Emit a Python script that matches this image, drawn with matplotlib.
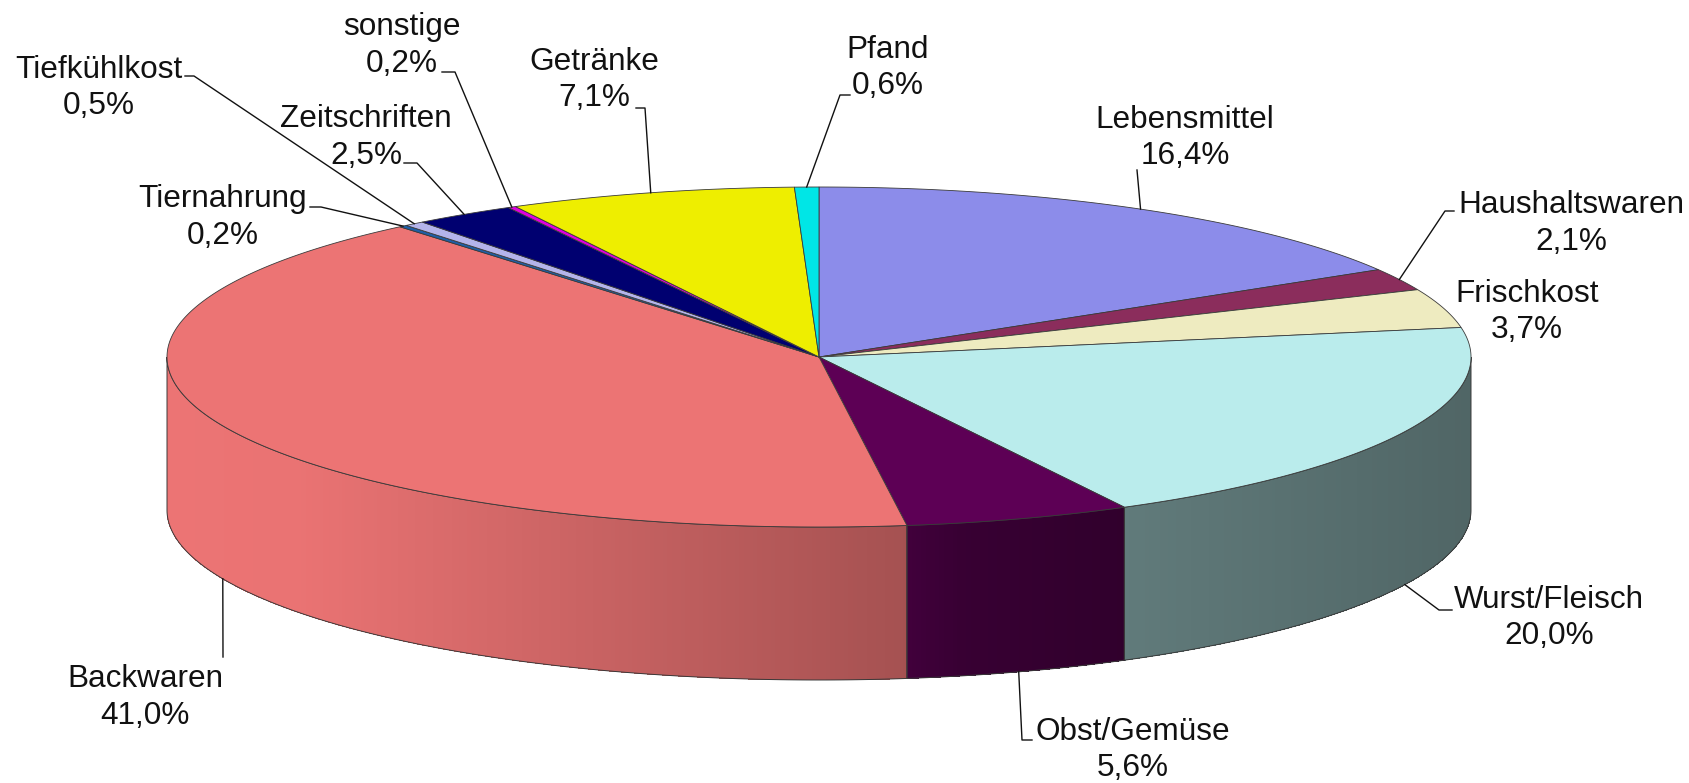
import matplotlib

matplotlib.use("Agg")
import matplotlib.pyplot as plt
import numpy as np
from matplotlib.collections import PolyCollection
from matplotlib.patches import Polygon

plt.rcParams["font.family"] = ["Liberation Sans", "DejaVu Sans"]

# Anteile je Warengruppe (im Uhrzeigersinn ab 12 Uhr)
categories = [
    "Lebensmittel", "Haushaltswaren", "Frischkost", "Wurst/Fleisch",
    "Obst/Gemüse", "Backwaren", "Tiernahrung", "Tiefkühlkost",
    "Zeitschriften", "sonstige", "Getränke", "Pfand",
]
shares = [16.4, 2.1, 3.7, 20.0, 5.6, 41.0, 0.2, 0.5, 2.5, 0.2, 7.1, 0.6]
colors = [
    "#8C8CEA", "#8B2D5C", "#EEEBC0", "#BAECEC", "#5D0055", "#EC7474",
    "#1F5FA8", "#B4B4EB", "#000070", "#E000E0", "#EEEE00", "#00E6E6",
]

# Geometrie der Torte (Pixel)
CX, CY, RX, RY, DEPTH = 819, 357, 652, 170, 153
EDGE = "#3a3a3a"

# Beschriftung: Mitte x, Grundlinie der ersten Zeile
label_pos = [
    (1185, 128), (1571, 213), (1527, 302), (1549, 608), (1133, 740), (145, 687),
    (223, 207), (99, 78), (366, 127), (402, 35), (594, 70), (888, 58),
]
LINE_GAP = 36.5
# Führungslinien: Startpunkte am Text, danach Ankerpunkt auf der Torte
leaders = {
    0: ([(1137, 170)], "top"),
    1: ([(1454, 211), (1445, 211)], "top"),
    3: ([(1452, 610), (1439, 610)], "bottom"),
    4: ([(1032, 740), (1022, 740)], "bottom"),
    5: ([(223, 657)], "bottom"),
    6: ([(310, 207), (321, 207)], "top"),
    7: ([(185, 76), (194, 76)], "top"),
    8: ([(404, 163), (417, 163)], "top"),
    9: ([(442, 72), (455, 72)], "top"),
    10: ([(636, 108), (645, 108)], "top"),
    11: ([(850, 95), (840, 95)], "top"),
}


def pt(theta, drop=0.0):
    t = np.radians(theta)
    return CX + RX * np.sin(t), CY - RY * np.cos(t) + drop


def shade(x):
    return np.interp(x, [167, 300, 906, 960, 1123, 1471], [1.0, 0.99, 0.70, 0.60, 0.52, 0.43])


fig = plt.figure(figsize=(16.9, 7.83), dpi=100)
ax = fig.add_axes([0, 0, 1, 1])
ax.set_xlim(0, 1690)
ax.set_ylim(783, 0)
ax.axis("off")

values = np.array(shares, dtype=float)
bounds = np.concatenate([[0], np.cumsum(values)]) / values.sum() * 360

# Seitenwände (nur vordere Hälfte sichtbar)
for i, color in enumerate(colors):
    lo, hi = max(bounds[i], 90), min(bounds[i + 1], 270)
    if hi <= lo:
        continue
    thetas = np.linspace(lo, hi, max(int((hi - lo) / 0.4), 2) + 1)
    base = np.array(matplotlib.colors.to_rgb(color))
    quads, fills = [], []
    for t0, t1 in zip(thetas[:-1], thetas[1:]):
        x0, y0 = pt(t0)
        x1, y1 = pt(t1)
        quads.append([(x0, y0), (x1, y1), (x1, y1 + DEPTH), (x0, y0 + DEPTH)])
        fills.append(np.clip(base * shade((x0 + x1) / 2), 0, 1))
    ax.add_collection(PolyCollection(quads, facecolors=fills, edgecolors="none",
                                     linewidths=0, antialiased=False, zorder=1))
    xs, ys = pt(thetas)
    outline = list(zip(xs, ys)) + list(zip(xs[::-1], ys[::-1] + DEPTH))
    ax.add_patch(Polygon(outline, closed=True, fill=False, edgecolor=EDGE, linewidth=0.7, zorder=2))

# Deckflächen
for i, color in enumerate(colors):
    thetas = np.linspace(bounds[i], bounds[i + 1], max(int((bounds[i + 1] - bounds[i]) / 0.4), 2) + 1)
    xs, ys = pt(thetas)
    ax.add_patch(Polygon([(CX, CY)] + list(zip(xs, ys)), closed=True, facecolor=color,
                         edgecolor=EDGE, linewidth=0.6, zorder=3))

# Beschriftungen
for i, (name, value) in enumerate(zip(categories, shares)):
    lx, ly = label_pos[i]
    ax.text(lx, ly, name, ha="center", va="baseline", fontsize=22.7, color="#111111", zorder=5)
    ax.text(lx, ly + LINE_GAP, f"{value:.1f}%".replace(".", ","), ha="center", va="baseline",
            fontsize=22.7, color="#111111", zorder=5)
    if i in leaders:
        points, where = leaders[i]
        mid = (bounds[i] + bounds[i + 1]) / 2
        anchor = pt(mid, DEPTH if where == "bottom" else 0.0)
        path = points + [anchor]
        ax.plot([p[0] for p in path], [p[1] for p in path], color="#111111", linewidth=1.0, zorder=4)

fig.savefig("out.png", dpi=100)
